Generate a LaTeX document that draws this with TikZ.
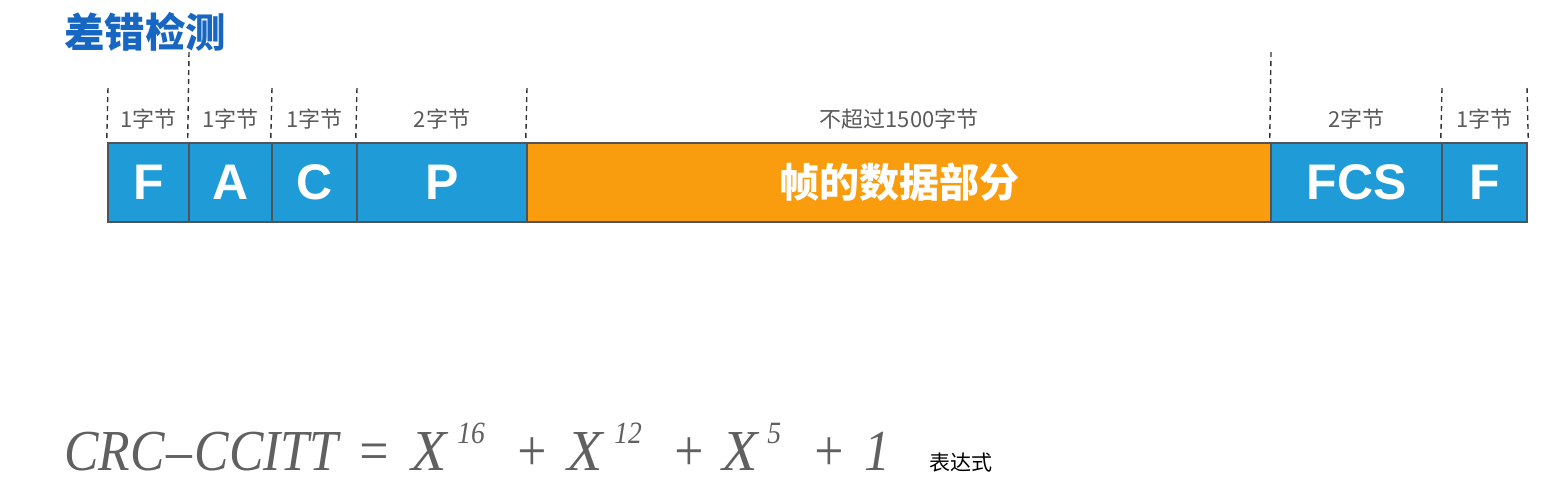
\documentclass[tikz,border=0pt]{standalone}
\usepackage{fontspec}
\setmainfont{Liberation Sans}
\newfontfamily\cjk{Noto Sans CJK SC}
\newfontfamily\fsans{Liberation Sans}
\newfontfamily\fserif[FakeStretch=0.89]{Liberation Serif}
\newfontfamily\fserifwide{Liberation Serif}
\definecolor{fieldblue}{HTML}{1F9BD7}
\definecolor{dataorange}{HTML}{F99D0F}
\definecolor{edgegray}{HTML}{505458}
\definecolor{titleblue}{HTML}{1766C2}
\definecolor{labelgray}{HTML}{5A5A5A}
\definecolor{formulagray}{HTML}{606060}
\newcommand{\piece}[2]{\makebox[#1pt][l]{#2}}
\newcommand{\supx}[1]{\raisebox{13.5pt}{\fontsize{15.5}{15.5}\selectfont #1}}
\newcommand{\bigX}{{\fserifwide\itshape X}}
\tikzset{
  field/.style={draw=edgegray, line width=1.3pt, minimum height=39.5pt, inner sep=0pt,
    text=white, font=\fsans\bfseries\fontsize{25}{25}\selectfont},
  datafield/.style={field, font=\cjk\bfseries\fontsize{20}{20}\selectfont},
  dashline/.style={draw=black!80, line width=0.7pt, dash pattern=on 2.5pt off 2pt},
  sizelabel/.style={text=labelgray, font=\cjk\fontsize{11}{11}\selectfont, inner sep=0pt},
}
\begin{document}
\begin{tikzpicture}[x=0.5pt,y=-0.5pt]
\useasboundingbox (0,0) rectangle (1561,500);
% title
\node[anchor=west, text=titleblue, font=\cjk\bfseries\fontsize{20.2}{20.2}\selectfont, inner sep=0pt] (title) at (64,32) {差错检测};
% fields
\node[field, fill=fieldblue, minimum width=40.5pt] (f1) at (148.5,182.5) {F};
\node[field, fill=fieldblue, minimum width=41.5pt] (a) at (230.5,182.5) {A};
\node[field, fill=fieldblue, minimum width=42.5pt] (c) at (314.5,182.5) {C};
\node[field, fill=fieldblue, minimum width=85pt] (p) at (442,182.5) {P};
\node[datafield, fill=dataorange, minimum width=372pt] (data) at (899,182.5) {帧的数据部分};
\node[field, fill=fieldblue, minimum width=85.5pt] (fcs) at (1356.5,182.5) {FCS};
\node[field, fill=fieldblue, minimum width=42.5pt] (f2) at (1484.5,182.5) {F};
% dashed boundary marks
\coordinate (d1) at (108,88);
\coordinate (d2) at (189,52);
\coordinate (d3) at (272,88);
\coordinate (d4) at (357,88);
\coordinate (d5) at (527,88);
\coordinate (d6) at (1271,52);
\coordinate (d7) at (1442,88);
\coordinate (d8) at (1527,88);
\draw[dashline] (d1) -- (f1.north west);
\draw[dashline] (d2) -- (a.north west);
\draw[dashline] (d3) -- (c.north west);
\draw[dashline] (d4) -- (p.north west);
\draw[dashline] (d5) -- (data.north west);
\draw[dashline] (d6) -- (fcs.north west);
\draw[dashline] (d7) -- (f2.north west);
\draw[dashline] (d8) -- (f2.north east);
% size labels
\node[sizelabel] (l1) at (148.5,119) {1字节};
\node[sizelabel] (l2) at (230.5,119) {1字节};
\node[sizelabel] (l3) at (314.5,119) {1字节};
\node[sizelabel] (l4) at (442,119) {2字节};
\node[sizelabel] (l5) at (899,119) {不超过1500字节};
\node[sizelabel] (l6) at (1356.5,119) {2字节};
\node[sizelabel] (l7) at (1484.5,119) {1字节};
% formula
\node[anchor=base west, inner sep=0pt, text=formulagray, font=\fserif\itshape\fontsize{29}{29}\selectfont] (formula) at (64,470)
  {\piece{146}{CRC\kern1pt–\kern1pt CCITT}\piece{27.5}{=}\piece{23}{\bigX}\piece{28.5}{\supx{16}}\piece{26.5}{+}\piece{23.5}{\bigX}\piece{28.5}{\supx{12}}\piece{25.5}{+}\piece{22.5}{\bigX}\piece{22}{\supx{5}}\piece{26.5}{+}1};
\node[anchor=base west, inner sep=0pt, font=\cjk\fontsize{10.5}{10.5}\selectfont] (expr) at (929,470) {表达式};
\end{tikzpicture}
\end{document}
